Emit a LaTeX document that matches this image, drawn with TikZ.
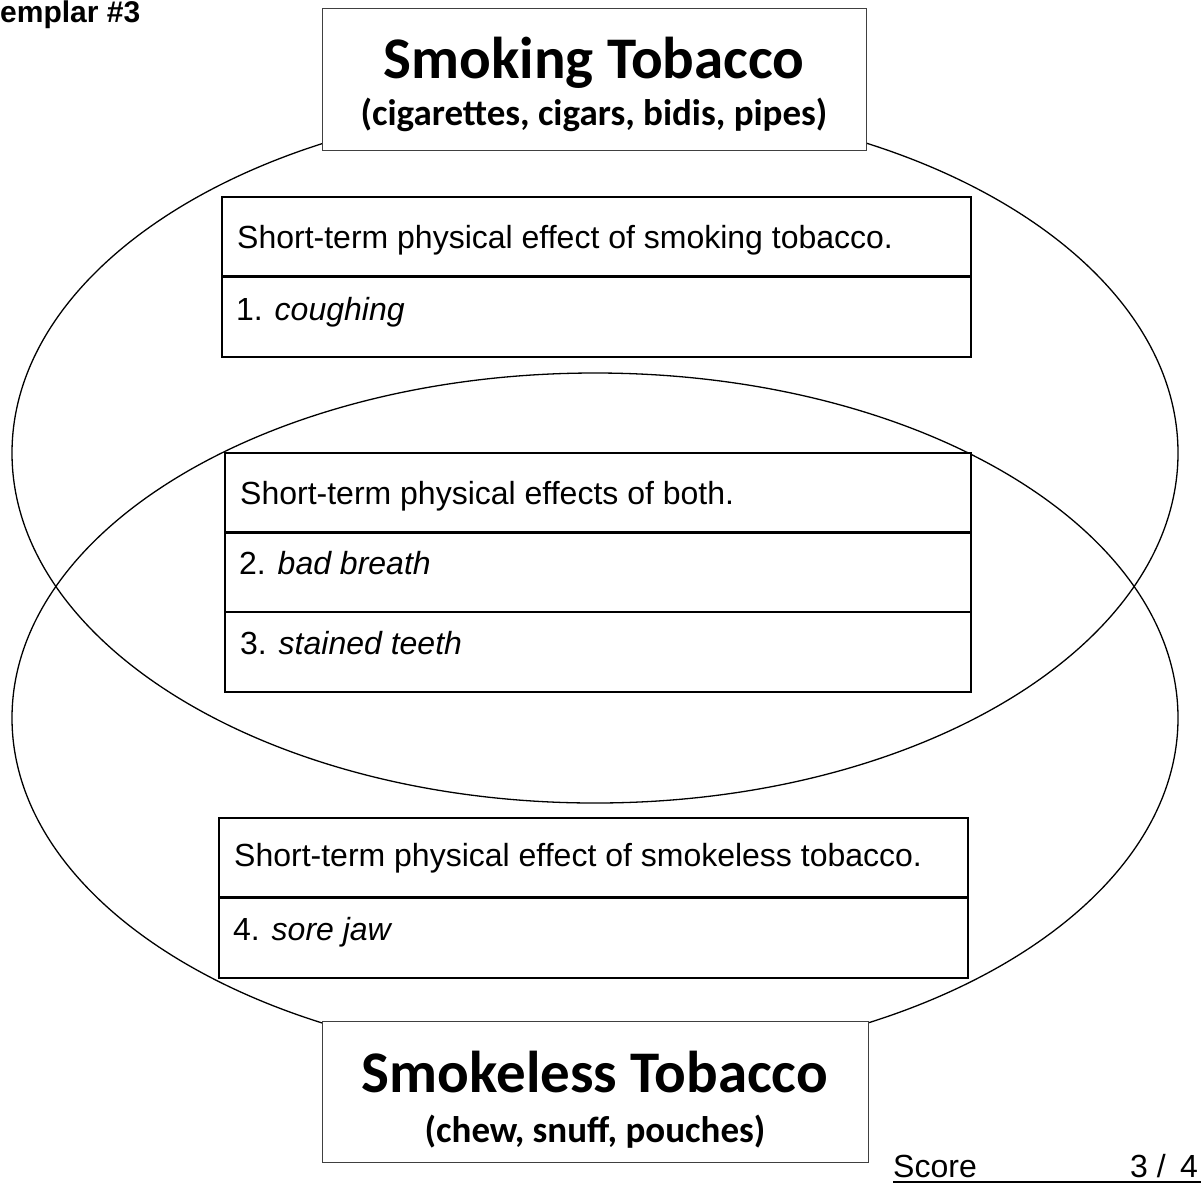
\documentclass[tikz,border=0pt]{standalone}
\usepackage{fontspec}
\setmainfont{Liberation Sans}
\newfontfamily\calibri{Carlito}
\begin{document}
\begin{tikzpicture}[x=1pt,y=-1pt,
  venn/.style={line width=1.3pt, draw=black},
  titlebox/.style={draw=black!75, line width=1.3pt, fill=white, inner sep=0pt, anchor=north west},
  cellbox/.style={draw=black, line width=2pt, fill=white, inner sep=0pt, anchor=north west},
  divthick/.style={line width=3pt},
  divthin/.style={line width=2pt},
  body/.style={inner sep=0pt, anchor=base west, font=\fontsize{32}{38}\selectfont},
  bigtitle/.style={inner sep=0pt, anchor=base, font=\calibri\bfseries\fontsize{59}{66}\selectfont},
  subtitle/.style={inner sep=0pt, anchor=base, font=\calibri\bfseries\fontsize{37}{42}\selectfont}
]
\useasboundingbox (0,0) rectangle (1201,1184);
% Venn ellipses
\draw[venn] (595,453) ellipse [x radius=583, y radius=350];
\draw[venn] (595,718) ellipse [x radius=583, y radius=345];
% header / footer boxes
\node[titlebox, minimum width=544pt, minimum height=142pt] (top) at (322,8) {};
\node[bigtitle] (topT) at (594,78) {Smoking Tobacco};
\node[subtitle] (topS) at (594,125) {(cigarettes, cigars, bidis, pipes)};
\node[titlebox, minimum width=546pt, minimum height=141pt] (bot) at (322,1021) {};
\node[bigtitle] (botT) at (595,1092) {Smokeless Tobacco};
\node[subtitle] (botS) at (595,1142) {(chew, snuff, pouches)};
% box 1
\node[cellbox, minimum width=749pt, minimum height=160pt] (b1) at (221,196) {};
\draw[divthick] ([yshift=-80pt]b1.north west) -- ([yshift=-80pt]b1.north east);
\node[body] (b1h) at (237,248) {Short-term physical effect of smoking tobacco.};
\node[body] (b1a) at (236,320) {1. \textit{coughing}};
% box 2
\node[cellbox, minimum width=746pt, minimum height=239pt] (b2) at (224,452) {};
\draw[divthick] ([yshift=-80pt]b2.north west) -- ([yshift=-80pt]b2.north east);
\draw[divthin] ([yshift=-160pt]b2.north west) -- ([yshift=-160pt]b2.north east);
\node[body] (b2h) at (240,504) {Short-term physical effects of both.};
\node[body] (b2a) at (239,574) {2. \textit{bad breath}};
\node[body] (b2b) at (240,654) {3. \textit{stained teeth}};
% box 3
\node[cellbox, minimum width=749pt, minimum height=160pt] (b3) at (218,817) {};
\draw[divthick] ([yshift=-80pt]b3.north west) -- ([yshift=-80pt]b3.north east);
\node[body] (b3h) at (234,866) {Short-term physical effect of smokeless tobacco.};
\node[body] (b3a) at (233,940) {4. \textit{sore jaw}};
% corner texts
\node[inner sep=0pt, anchor=base west, font=\bfseries\fontsize{30}{34}\selectfont] (ex) at (0,22) {emplar \#3};
\node[body] (sc) at (893,1177) {Score};
\node[body] (sc1) at (1130,1177) {3 /};
\node[inner sep=0pt, anchor=base east, font=\fontsize{32}{38}\selectfont] (sc2) at (1198,1177) {4};
\coordinate (ulA) at (893,1182);
\coordinate (ulB) at (1201,1182);
\draw[line width=1.5pt] (ulA) -- (ulB);
\end{tikzpicture}
\end{document}
